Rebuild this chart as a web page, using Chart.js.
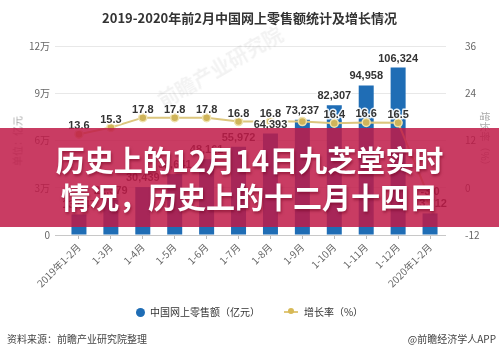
<!DOCTYPE html>
<html><head><meta charset="utf-8">
<script src="https://cdn.jsdelivr.net/npm/chart.js@4/dist/chart.umd.min.js"></script>
<style>
html,body{margin:0;padding:0;background:#fff;width:499px;height:356px;overflow:hidden;font-family:"Noto Sans CJK SC","Noto Sans",sans-serif;}
#wrap{position:relative;width:499px;height:356px;}
canvas{position:absolute;left:0;top:0;}
.abs{position:absolute;white-space:nowrap;}
#title{left:0;width:499px;top:8px;text-align:center;font-size:13px;font-weight:bold;color:#333;}
#ytitle{left:17px;top:141px;font-size:10px;color:#aaa;transform:translate(-50%,-50%) rotate(-90deg);}
#y1title{left:485px;top:141px;font-size:10px;color:#aaa;transform:translate(-50%,-50%) rotate(90deg);}
#wm{left:150px;top:52px;font-size:20px;font-weight:bold;color:rgba(0,0,0,0.05);transform:rotate(-30deg);}
#legend{left:0;width:499px;top:304px;height:16px;display:flex;justify-content:center;align-items:center;font-size:10px;color:#333;}
.li{display:flex;align-items:center;margin:0 12px;line-height:16px;}
.dot{display:inline-block;width:9px;height:9px;border-radius:50%;background:#1f6db5;margin-right:5px;}
.ln{position:relative;display:inline-block;width:14px;height:2px;background:#e0c77a;margin-right:6px;}
.ln:after{content:"";position:absolute;left:4px;top:-3px;width:6px;height:6px;border-radius:50%;background:#d7b956;}
#src{left:7px;top:331px;font-size:10px;color:#444;}
#app{right:3px;top:331px;font-size:10px;color:#444;}
#banner{left:0;top:128px;width:499px;height:99px;background:rgba(192,26,72,0.85);}
#btext{left:0;width:499px;top:141px;text-align:center;font-size:29px;line-height:37px;font-weight:bold;color:#fff;text-shadow:1px 2px 3px rgba(110,0,30,0.55);}
</style></head>
<body><div id="wrap">
<canvas id="c" width="499" height="356"></canvas>
<div class="abs" id="wm">前瞻产业研究院</div>
<div class="abs" id="title">2019-2020年前2月中国网上零售额统计及增长情况</div>
<div class="abs" id="ytitle">单位：亿元</div>
<div class="abs" id="y1title">增长率（%）</div>
<div class="abs" id="legend"><span class="li"><span class="dot"></span>中国网上零售额（亿元）</span><span class="li"><span class="ln"></span>增长率（%）</span></div>
<div class="abs" id="src">资料来源：前瞻产业研究院整理</div>
<div class="abs" id="app">@前瞻经济学人APP</div>
<div class="abs" id="banner"></div>
<div class="abs" id="btext">历史上的12月14日九芝堂实时<br>情况，历史上的十二月十四日</div>
</div>
<script>
const categories = ['2019年1-2月','1-3月','1-4月','1-5月','1-6月','1-7月','1-8月','1-9月','1-10月','1-11月','1-12月','2020年1-2月'];
const retailSales = [13047, 22379, 30439, 38641, 48161, 55972, 64393, 73237, 82307, 94958, 106324, 13712];
const growthRate = [13.6, 15.3, 17.8, 17.8, 17.8, 16.8, 16.8, 16.8, 16.4, 16.6, 16.5, -3.0];
const hiddenGrowthLabels = ['1-9月'];
const leftTicks = [0, 30000, 60000, 90000, 120000];
const rightTicks = [-12, 0, 12, 24, 36];

const labelPlugin = {
  id: 'valueLabels',
  afterDatasetsDraw(chart) {
    const ctx = chart.ctx;
    ctx.save();
    ctx.font = 'bold 11px "Liberation Sans", Arial, sans-serif';
    ctx.textAlign = 'center';
    ctx.textBaseline = 'middle';
    ctx.lineJoin = 'round';
    const draw = (txt, x, y) => {
      ctx.lineWidth = 3; ctx.strokeStyle = 'rgba(255,255,255,0.9)';
      ctx.strokeText(txt, x, y);
      ctx.fillStyle = '#333'; ctx.fillText(txt, x, y);
    };
    const lineMeta = chart.getDatasetMeta(1);
    lineMeta.data.forEach((pt, i) => {
      if (hiddenGrowthLabels.includes(categories[i])) return;
      draw(growthRate[i].toFixed(1), pt.x, pt.y - 8);
    });
    const barMeta = chart.getDatasetMeta(0);
    barMeta.data.forEach((bar, i) => {
      draw(retailSales[i].toLocaleString('en-US'), bar.x, bar.y - 9);
    });
    ctx.restore();
  }
};

new Chart(document.getElementById('c'), {
  data: {
    labels: categories,
    datasets: [
      { type: 'bar', label: '中国网上零售额（亿元）', data: retailSales, yAxisID: 'y',
        backgroundColor: '#1f6db5', barPercentage: 0.47, categoryPercentage: 1.0, order: 2 },
      { type: 'line', label: '增长率（%）', data: growthRate, yAxisID: 'y1',
        borderColor: '#dcc67e', borderWidth: 2, pointRadius: 4, pointBackgroundColor: '#cfb45a',
        pointBorderColor: '#efe2ad', pointBorderWidth: 1.5, tension: 0, order: 1 }
    ]
  },
  options: {
    responsive: false, animation: false, devicePixelRatio: 1,
    layout: { padding: { top: 46, bottom: 61, left: 0, right: 0 } },
    plugins: { legend: { display: false }, title: { display: false }, tooltip: { enabled: false } },
    scales: {
      x: {
        border: { display: false },
        grid: { display: true, drawOnChartArea: false, drawTicks: true, tickLength: 4, offset: false, color: '#bbb' },
        ticks: { autoSkip: false, minRotation: 45, maxRotation: 45, padding: 2, color: '#666',
                 font: { size: 10, family: '"Noto Sans CJK SC", sans-serif' } },
        afterFit(s) { s.height = 60; }
      },
      y: {
        position: 'left', min: 0, max: 120000,
        border: { display: false },
        grid: { color: (c) => c.tick && c.tick.value === 0 ? '#c8c8c8' : '#e8e8e8', tickLength: 8 },
        afterBuildTicks(s) { s.ticks = leftTicks.map(v => ({ value: v })); },
        ticks: { padding: 5, color: '#666', font: { size: 10, family: '"Noto Sans CJK SC", sans-serif' },
                 callback: (v) => v === 0 ? '0' : (v / 10000) + '万' },
        afterFit(s) { s.width = 63; }
      },
      y1: {
        position: 'right', min: -12, max: 36,
        border: { display: false },
        grid: { display: false },
        afterBuildTicks(s) { s.ticks = rightTicks.map(v => ({ value: v })); },
        ticks: { padding: 11, color: '#666', font: { size: 10, family: '"Noto Sans CJK SC", sans-serif' } },
        afterFit(s) { s.width = 53; }
      }
    }
  },
  plugins: [labelPlugin]
});
</script>
</body></html>
